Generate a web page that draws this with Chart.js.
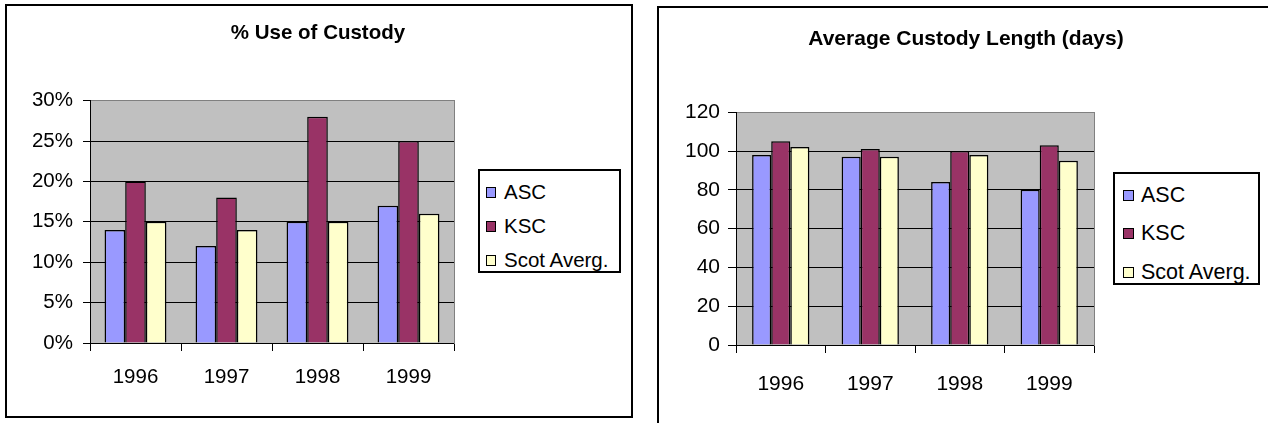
<!DOCTYPE html>
<html>
<head>
<meta charset="utf-8">
<script src="https://cdn.jsdelivr.net/npm/chart.js@4/dist/chart.umd.min.js"></script>
<style>
  body { margin: 0; width: 1268px; height: 423px; overflow: hidden; background: #fff; position: relative; font-family: "Liberation Sans", Arial, sans-serif; }
  .panel { position: absolute; border: 2px solid #000; box-sizing: border-box; }
  canvas { position: absolute; top: 0; }
  .legend { position: absolute; border: 2px solid #000; box-sizing: border-box; background: #fff; color: #000; }
  .legend .row { display: flex; align-items: center; white-space: nowrap; }
  .legend .sw { border: 1px solid #000; box-sizing: border-box; flex: none; }
</style>
</head>
<body>
<div class="panel" style="left:5px; top:4px; width:628px; height:414px;"></div>
<div class="panel" style="left:657px; top:6px; width:700px; height:500px;"></div>
<canvas id="pctChart" width="640" height="423" style="left:-2px;"></canvas>
<canvas id="daysChart" width="628" height="423" style="left:652px;"></canvas>
<div id="pctLegend" class="legend" style="left:478px; top:169px; width:143px; height:104px; padding-top:4px;"></div>
<div id="daysLegend" class="legend" style="left:1113px; top:172px; width:147px; height:113px; padding-top:2px;"></div>
<script>
const years = ['1996', '1997', '1998', '1999'];
const seriesNames = ['ASC', 'KSC', 'Scot Averg.'];
const seriesColors = ['#9999FF', '#993366', '#FFFFCC'];

// % use of custody
const ascPct = [14, 12, 15, 17];
const kscPct = [20, 18, 28, 25];
const scotPct = [15, 14, 15, 16];
const pctMax = 30, pctStep = 5;

// average custody length (days)
const ascDays = [98, 97, 84, 80];
const kscDays = [105, 101, 100, 103];
const scotDays = [102, 97, 98, 95];
const daysMax = 120, daysStep = 20;

const FONT = '"Liberation Sans", Arial, sans-serif';

const plotBg = {
    id: 'plotBg',
    beforeDraw(c) {
        const a = c.chartArea;
        c.ctx.save();
        c.ctx.fillStyle = '#C0C0C0';
        c.ctx.fillRect(a.left, a.top, a.right - a.left, a.bottom - a.top);
        c.ctx.restore();
    }
};

function makeChart(id, o) {
    const ctx = document.getElementById(id).getContext('2d');
    return new Chart(ctx, {
        type: 'bar',
        data: {
            labels: years,
            datasets: o.series.map((d, i) => ({
                label: seriesNames[i],
                data: d,
                backgroundColor: seriesColors[i],
                borderColor: '#000',
                borderWidth: 1.5,
                categoryPercentage: o.catPct,
                barPercentage: 1
            }))
        },
        options: {
            responsive: false,
            animation: false,
            layout: { padding: 0 },
            plugins: {
                legend: { display: false },
                tooltip: { enabled: false },
                title: {
                    display: true,
                    text: o.title,
                    color: '#000',
                    font: { family: FONT, size: o.titleSize, weight: 'bold' },
                    padding: { top: o.titleTop, bottom: o.titleBottom }
                }
            },
            scales: {
                x: {
                    offset: true,
                    grid: { offset: true, drawOnChartArea: false, color: '#000', tickLength: 8 },
                    border: { color: '#000' },
                    ticks: { color: '#000', font: { family: FONT, size: o.tickSize }, padding: o.xPad },
                    afterFit(s) { s.height = o.xHeight; }
                },
                y: {
                    min: 0,
                    max: o.max,
                    ticks: {
                        stepSize: o.step,
                        color: '#000',
                        font: { family: FONT, size: o.tickSize },
                        padding: o.yPad,
                        callback: o.fmt
                    },
                    grid: {
                        color: c => (c.tick && c.tick.value === o.max) ? '#808080' : '#000',
                        tickColor: '#000',
                        tickLength: o.yTick
                    },
                    border: { color: '#000' },
                    afterFit(s) { s.width = o.yWidth; }
                },
                yr: {
                    position: 'right',
                    display: true,
                    grid: { display: false },
                    ticks: { display: false },
                    border: { display: true, color: '#808080' },
                    afterFit(s) { s.width = o.rightWidth; }
                }
            }
        },
        plugins: [plotBg]
    });
}

function makeLegend(id, o) {
    const box = document.getElementById(id);
    seriesNames.forEach((name, i) => {
        const row = document.createElement('div');
        row.className = 'row';
        row.style.height = o.rowH + 'px';
        const sw = document.createElement('span');
        sw.className = 'sw';
        sw.style.background = seriesColors[i];
        sw.style.width = o.swW + 'px';
        sw.style.height = o.swH + 'px';
        sw.style.marginLeft = o.swLeft + 'px';
        sw.style.marginRight = o.gap + 'px';
        const txt = document.createElement('span');
        txt.textContent = name;
        txt.style.fontSize = o.fontSize + 'px';
        row.appendChild(sw);
        row.appendChild(txt);
        box.appendChild(row);
    });
}

makeChart('pctChart', {
    series: [ascPct, kscPct, scotPct],
    title: '% Use of Custody',
    titleSize: 20.5, titleTop: 21, titleBottom: 55,
    tickSize: 20.5,
    catPct: 0.68,
    max: pctMax, step: pctStep,
    fmt: v => v + '%',
    xHeight: 80, xPad: 14,
    yWidth: 92, yPad: 10, yTick: 7,
    rightWidth: 184
});

makeChart('daysChart', {
    series: [ascDays, kscDays, scotDays],
    title: 'Average Custody Length (days)',
    titleSize: 21, titleTop: 27, titleBottom: 60,
    tickSize: 21,
    catPct: 0.64,
    max: daysMax, step: daysStep,
    fmt: v => v,
    xHeight: 78, xPad: 19,
    yWidth: 84, yPad: 8, yTick: 8,
    rightWidth: 186
});

makeLegend('pctLegend', { rowH: 34, swW: 10, swH: 11, swLeft: 6, gap: 8, fontSize: 20.5 });
makeLegend('daysLegend', { rowH: 38.5, swW: 11, swH: 11, swLeft: 8, gap: 7, fontSize: 21.5 });
</script>
</body>
</html>
